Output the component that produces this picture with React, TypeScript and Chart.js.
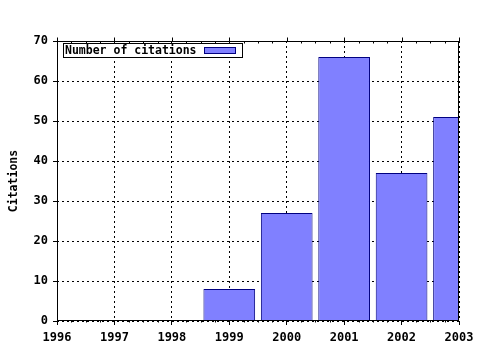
import React, { useEffect, useRef } from "react";
import { Chart, registerables } from "chart.js";

Chart.register(...registerables);

const years = [1996, 1997, 1998, 1999, 2000, 2001, 2002, 2003];
const citations = [0, 0, 0, 8, 27, 66, 37, 51];
const seriesLabel = "Number of citations";
const yTitle = "Citations";
const yTicks = [0, 10, 20, 30, 40, 50, 60, 70];

const FONT = "'DejaVu Sans Mono', monospace";
const FILL = "#8080ff";
const EDGE = "#000080";

const framePlugin = {
  id: "frame",
  afterDatasetsDraw(chart: any) {
    const { ctx, chartArea: a, scales } = chart;
    const x = scales.x;
    ctx.save();
    ctx.setLineDash([]);
    ctx.strokeStyle = "#000";
    ctx.lineWidth = 1;
    const L = Math.round(a.left) + 0.5;
    const R = Math.round(a.right) - 0.5;
    const T = Math.round(a.top) + 0.5;
    const B = Math.round(a.bottom) - 0.5;
    ctx.strokeRect(L, T, R - L, B - T);
    ctx.beginPath();
    for (let i = 0; i < years.length; i++) {
      const px = Math.round(x.getPixelForValue(years[i])) + 0.5;
      ctx.moveTo(px, T);
      ctx.lineTo(px, T - 4);
      if (i < years.length - 1) {
        for (const f of [0.25, 0.5, 0.75]) {
          const mx = Math.round(x.getPixelForValue(years[i] + f)) + 0.5;
          ctx.moveTo(mx, T);
          ctx.lineTo(mx, T + 2);
          ctx.moveTo(mx, B);
          ctx.lineTo(mx, B + 2);
        }
      }
    }
    ctx.stroke();
    ctx.restore();
  },
  afterDraw(chart: any) {
    const { ctx, chartArea: a } = chart;
    ctx.save();
    ctx.setLineDash([]);
    const bx = Math.round(a.left) + 6.5;
    const by = Math.round(a.top) + 2.5;
    const bw = 179;
    const bh = 14;
    ctx.fillStyle = "#fff";
    ctx.fillRect(bx, by, bw, bh);
    ctx.strokeStyle = "#000";
    ctx.lineWidth = 1;
    ctx.strokeRect(bx, by, bw, bh);
    ctx.font = `bold 11.5px ${FONT}`;
    ctx.fillStyle = "#000";
    ctx.textBaseline = "middle";
    ctx.textAlign = "left";
    ctx.fillText(seriesLabel, bx + 1.5, by + bh / 2 + 1);
    ctx.fillStyle = FILL;
    ctx.fillRect(bx + 141, by + 4, 31, 6);
    ctx.strokeStyle = EDGE;
    ctx.strokeRect(bx + 141, by + 4, 31, 6);
    ctx.restore();
  },
};

export default function App() {
  const ref = useRef<HTMLCanvasElement>(null);
  useEffect(() => {
    document.body.style.margin = "0";
    const chart = new Chart(ref.current!, {
      type: "bar",
      data: {
        datasets: [
          {
            label: seriesLabel,
            data: years.map((y, i) => ({ x: y, y: citations[i] > 0 ? citations[i] : null })),
            backgroundColor: FILL,
            borderColor: EDGE,
            borderWidth: 1,
            borderSkipped: "start",
            barPercentage: 0.9,
            categoryPercentage: 1,
          } as any,
        ],
      },
      options: {
        responsive: false,
        animation: false,
        events: [],
        layout: { padding: { top: 41, right: 21, left: 0, bottom: 0 } },
        plugins: { legend: { display: false }, tooltip: { enabled: false } },
        scales: {
          x: {
            type: "linear",
            min: years[0],
            max: years[years.length - 1],
            offset: false,
            afterFit: (s: any) => {
              s.height = 29;
            },
            afterBuildTicks: (s: any) => {
              s.ticks = years.map((v) => ({ value: v }));
            },
            ticks: {
              callback: (v: any) => String(v),
              font: { family: FONT, size: 12, weight: "bold" },
              color: "#000",
              padding: 6,
              maxRotation: 0,
              autoSkip: false,
            },
            grid: {
              offset: false,
              color: "#000",
              lineWidth: 1,
              tickLength: 4,
              tickBorderDash: [],
            },
            border: { display: false, dash: [2, 3] },
          },
          y: {
            min: 0,
            max: 70,
            afterFit: (s: any) => {
              s.width = 57;
            },
            afterBuildTicks: (s: any) => {
              s.ticks = yTicks.map((v) => ({ value: v }));
            },
            ticks: {
              callback: (v: any) => String(v),
              font: { family: FONT, size: 12, weight: "bold" },
              color: "#000",
              padding: 5,
            },
            title: {
              display: true,
              text: yTitle,
              font: { family: FONT, size: 11.5, weight: "bold" },
              color: "#000",
              padding: { top: 7, bottom: 0 },
            },
            grid: {
              color: "#000",
              lineWidth: 1,
              tickLength: 4,
              tickBorderDash: [],
            },
            border: { display: false, dash: [2, 3] },
          },
        },
      },
      plugins: [framePlugin],
    });
    return () => chart.destroy();
  }, []);
  return (
    <div style={{ position: "absolute", left: 0, top: 0, width: 480, height: 350 }}>
      <canvas ref={ref} width={480} height={350} />
    </div>
  );
}
